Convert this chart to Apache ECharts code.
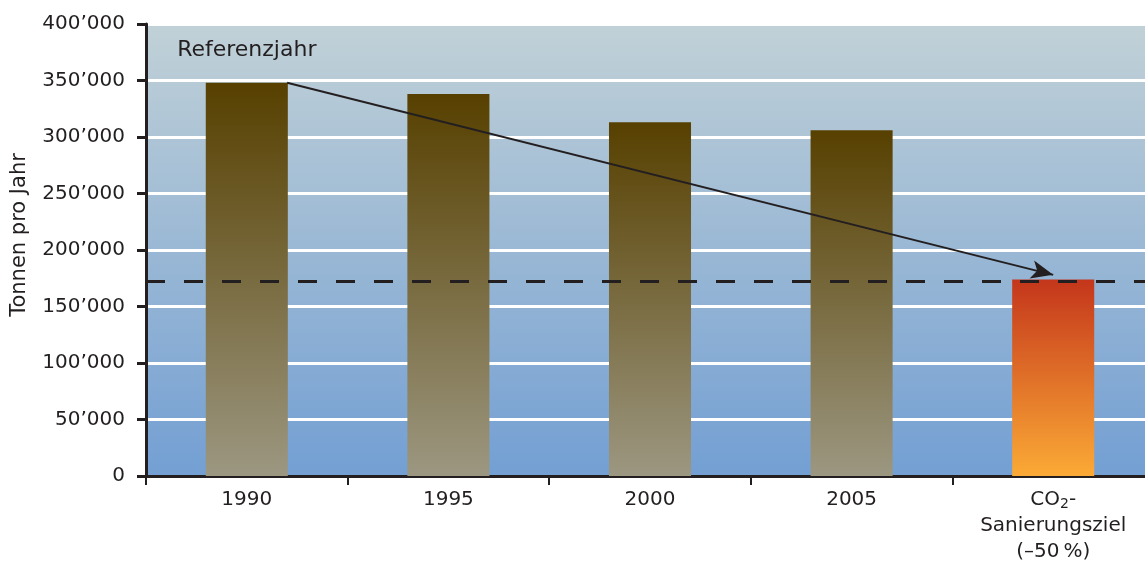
<!DOCTYPE html>
<html>
<head>
<meta charset="utf-8">
<script src="https://cdn.jsdelivr.net/npm/echarts@6/dist/echarts.min.js"></script>
<style>
  html, body { margin: 0; padding: 0; background: #ffffff; }
  #chart { width: 1145px; height: 562px; }
</style>
</head>
<body>
<div id="chart"></div>
<script>
// Emissions per year (tonnes)
const categories = ['1990', '1995', '2000', '2005', 'CO2-Ziel'];
const emissions = [348000, 338000, 313000, 306000];
const target = 174000;           // remediation target (–50 % of 1990)
const targetLine = 172000;       // dashed reference line
const yTicks = { min: 0, max: 400000, interval: 50000 };
// arrow from the reference year to the target (category index, value)
const arrowStart = [0.2, 348000];
const arrowEnd = [4.0, 178000];

const ink = '#231f20';
const font = 'DejaVu Sans';

const brown = new echarts.graphic.LinearGradient(0, 0, 0, 1, [
  { offset: 0, color: '#574000' },
  { offset: 1, color: '#9c9781' }
]);
const orange = new echarts.graphic.LinearGradient(0, 0, 0, 1, [
  { offset: 0, color: '#c4361b' },
  { offset: 1, color: '#fbaa36' }
]);

const barData = emissions.map((v, i) => {
  const item = { value: v, itemStyle: { color: brown } };
  if (i === 0) {
    item.label = {
      show: true, position: 'top', distance: 21,
      formatter: 'Referenzjahr', color: ink, fontSize: 22, fontFamily: font
    };
  }
  return item;
});
barData.push({ value: target, itemStyle: { color: orange } });

const fmt = v => {
  if (v === 0) return '0';
  const k = Math.round(v / 1000);
  return k + '\u2019000';
};

const chart = echarts.init(document.getElementById('chart'), null, { renderer: 'canvas' });
chart.setOption({
  animation: false,
  backgroundColor: '#ffffff',
  grid: {
    left: 146, width: 1008, top: 24, bottom: 86,
    outerBoundsMode: 'none',
    containLabel: false,
    show: true, borderWidth: 0,
    backgroundColor: new echarts.graphic.LinearGradient(0, 0, 0, 1, [
      { offset: 0, color: '#c1d1d7' },
      { offset: 1, color: '#739fd3' }
    ])
  },
  xAxis: [{
    type: 'category',
    data: categories,
    axisLine: { lineStyle: { color: ink, width: 3 } },
    axisTick: { show: true, length: 9, interval: 0, lineStyle: { color: ink, width: 2 } },
    axisLabel: {
      interval: 0, hideOverlap: false,
      color: ink, fontSize: 20, fontFamily: font, margin: 11, lineHeight: 26,
      formatter: v => v === 'CO2-Ziel'
        ? '{a|CO}{s|2}{a|-}\nSanierungsziel\n(\u201350\u2009%)'
        : v,
      rich: {
        a: { fontSize: 20, fontFamily: font, color: ink, lineHeight: 26 },
        s: { fontSize: 14, fontFamily: font, color: ink, padding: [8, 0, 0, 0], lineHeight: 26 }
      }
    },
    splitLine: { show: false }
  }, {
    type: 'value', min: -0.5, max: 4.5, show: false
  }],
  yAxis: {
    type: 'value',
    min: yTicks.min, max: yTicks.max, interval: yTicks.interval,
    name: 'Tonnen pro Jahr',
    nameLocation: 'middle',
    nameGap: 116,
    nameTextStyle: { color: ink, fontSize: 21, fontFamily: font, padding: [0, 0, 0, 30] },
    axisLine: { show: true, onZero: false, lineStyle: { color: ink, width: 3 } },
    axisTick: { show: true, length: 9, lineStyle: { color: ink, width: 3 } },
    axisLabel: { color: ink, fontSize: 20, fontFamily: font, margin: 21, formatter: fmt },
    splitLine: { show: true, lineStyle: { color: '#ffffff', width: 3 } }
  },
  series: [{
    type: 'bar',
    data: barData,
    barWidth: '40.7%',
    z: 2,
    markLine: {
      silent: true,
      symbol: 'none',
      z: 5,
      label: { show: false },
      lineStyle: { color: ink, width: 3, type: [19, 19] },
      data: [{ yAxis: targetLine }]
    }
  }, {
    type: 'line',
    xAxisIndex: 1,
    data: [],
    z: 6,
    markLine: {
      silent: true,
      symbol: ['none', 'arrow'],
      symbolSize: [14, 22],
      label: { show: false },
      lineStyle: { color: ink, width: 2, type: 'solid' },
      data: [[{ coord: arrowStart }, { coord: arrowEnd }]]
    }
  }]
});
</script>
</body>
</html>
